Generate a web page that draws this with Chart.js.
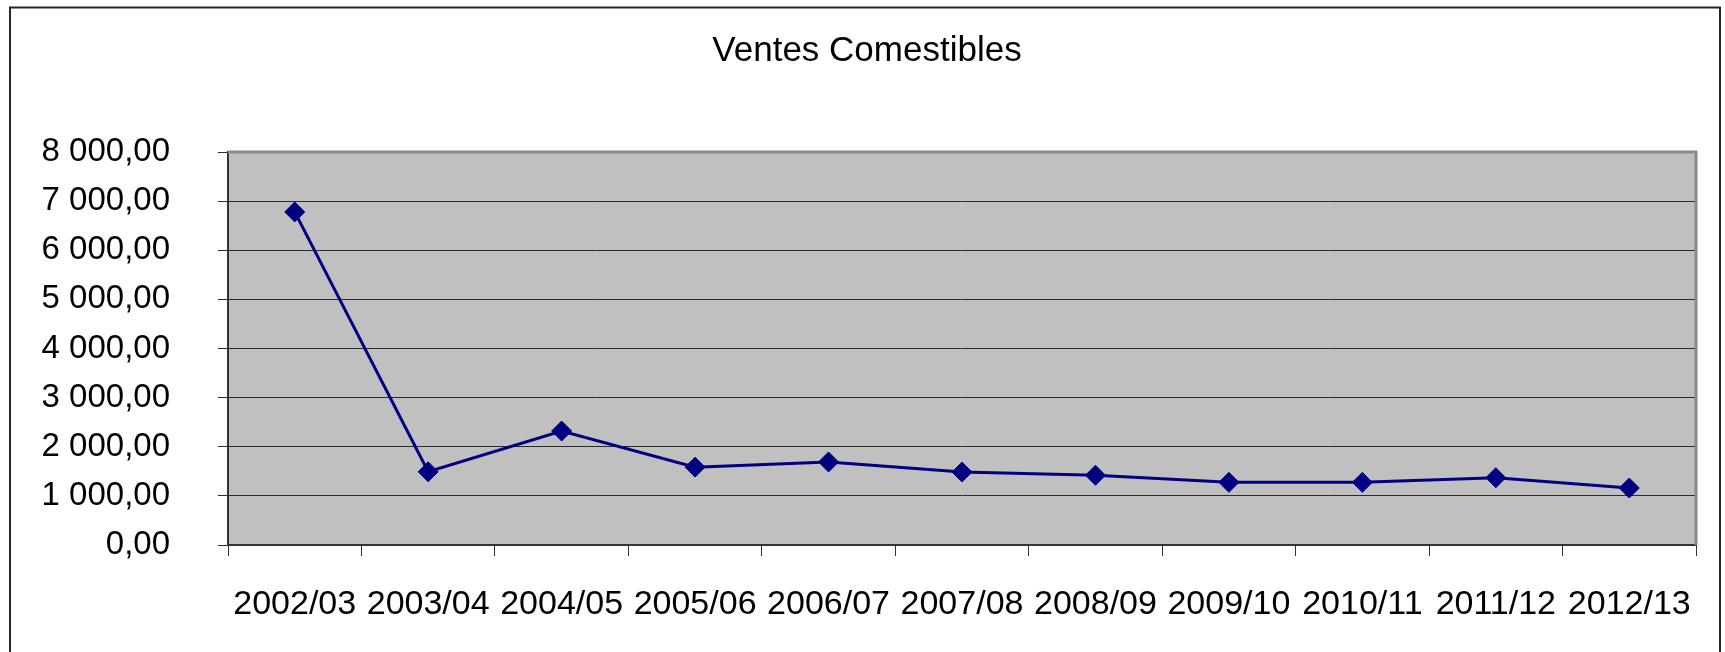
<!DOCTYPE html>
<html>
<head>
<meta charset="utf-8">
<script src="https://cdn.jsdelivr.net/npm/chart.js@4.4.0/dist/chart.umd.min.js"></script>
<style>
  body { margin: 0; background: #fff; overflow: hidden; }
</style>
</head>
<body>
<canvas id="chart" width="1725" height="652"></canvas>
<script>
// data
var saisons = ['2002/03', '2003/04', '2004/05', '2005/06', '2006/07', '2007/08',
               '2008/09', '2009/10', '2010/11', '2011/12', '2012/13'];
var ventes = [6780, 1490, 2320, 1585, 1690, 1485, 1420, 1275, 1275, 1370, 1160];
var yMin = 0, yMax = 8000, yStep = 1000;

var police = "'Liberation Sans', Arial, sans-serif";

// 8 000,00 style
function formatFr(v) {
    var p = Number(v).toFixed(2).split('.');
    return p[0].replace(/\B(?=(\d{3})+(?!\d))/g, ' ') + ',' + p[1];
}

// outer frame + grey plot area
var cadre = {
    id: 'cadre',
    beforeDraw: function(chart) {
        var c = chart.ctx, a = chart.chartArea;
        c.save();
        c.fillStyle = '#fff';
        c.fillRect(0, 0, chart.width, chart.height);
        c.strokeStyle = '#262626';
        c.lineWidth = 2;
        c.strokeRect(10, 7.5, 1710, 700);
        c.fillStyle = '#c0c0c0';
        c.fillRect(a.left, a.top, a.right - a.left, a.bottom - a.top);
        c.restore();
    },
    beforeDatasetsDraw: function(chart) {
        var c = chart.ctx, a = chart.chartArea;
        c.save();
        c.strokeStyle = '#8a8a8a';
        c.lineWidth = 3;
        c.beginPath();
        c.moveTo(a.left, a.top);
        c.lineTo(a.right, a.top);
        c.lineTo(a.right, a.bottom);
        c.stroke();
        c.restore();
    }
};

var ctx = document.getElementById('chart');
var chartGraph = new Chart(ctx, {
    type: 'line',
    data: {
        labels: saisons,
        datasets: [{
            label: 'Ventes Comestibles',
            data: ventes,
            borderColor: '#000080',
            backgroundColor: '#000080',
            borderWidth: 3,
            pointStyle: 'rectRot',
            pointRadius: 10,
            pointBorderWidth: 1,
            pointBackgroundColor: '#000080',
            pointBorderColor: '#000080',
            tension: 0
        }]
    },
    options: {
        responsive: false,
        animation: false,
        devicePixelRatio: 1,
        layout: { padding: { left: 38, right: 29, top: 0, bottom: 0 } },
        plugins: {
            legend: { display: false },
            tooltip: { enabled: false },
            title: {
                display: true,
                text: 'Ventes Comestibles',
                color: '#000',
                font: { family: police, size: 35, weight: 'normal', lineHeight: 1.2 },
                padding: { top: 30, bottom: 80 }
            }
        },
        scales: {
            x: {
                offset: true,
                grid: {
                    offset: true,
                    drawOnChartArea: false,
                    drawTicks: true,
                    tickLength: 11,
                    color: '#333'
                },
                border: { color: '#333', width: 2 },
                ticks: {
                    color: '#000',
                    padding: 28,
                    maxRotation: 0,
                    autoSkip: false,
                    font: { family: police, size: 34 }
                },
                afterFit: function(scale) { scale.height = 107; }
            },
            y: {
                min: yMin,
                max: yMax,
                grid: {
                    color: '#2b2b2b',
                    lineWidth: 1,
                    drawTicks: true,
                    tickLength: 10
                },
                border: { color: '#333', width: 2 },
                ticks: {
                    stepSize: yStep,
                    color: '#000',
                    padding: 48,
                    font: { family: police, size: 33 },
                    callback: function(value) { return formatFr(value); }
                },
                afterFit: function(scale) { scale.width = 190; }
            }
        }
    },
    plugins: [cadre]
});
</script>
</body>
</html>
